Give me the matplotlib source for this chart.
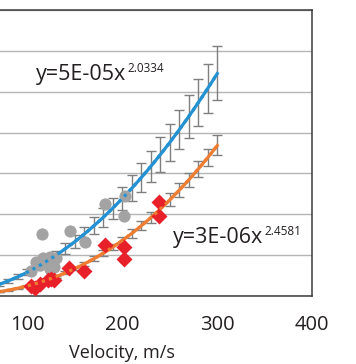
import numpy as np
import matplotlib
matplotlib.use("Agg")
import matplotlib.pyplot as plt

plt.rcParams["font.family"] = ["Open Sans", "DejaVu Sans"]

# measured points (gray = upper series, red = lower series)
gray_x = [182, 203, 201.5, 115.7, 145, 160.5, 109.4, 116.4, 123.4, 130.4, 128.6, 104, 113, 120, 123.4]
gray_y = [2.25, 2.45, 1.96, 1.51, 1.59, 1.32, 0.84, 0.92, 0.96, 0.92, 0.72, 0.62, 0.76, 0.88, 0.66]
red_x = [238.8, 238.8, 182, 202, 202, 144.4, 160, 125, 128.6, 107.7, 104, 113, 121.6]
red_y = [2.29, 1.96, 1.25, 1.19, 0.91, 0.68, 0.61, 0.41, 0.39, 0.19, 0.24, 0.29, 0.39]

# power trendlines as printed on the chart
blue_a, blue_b = 5e-05, 2.0334
orange_a, orange_b = 3e-06, 2.4581

# model points with error bars
err_x = [50, 60, 70, 80, 90, 100, 110, 120, 130, 140, 150, 160, 170,
         180, 190, 200, 210, 220, 230, 240, 250, 260, 270, 280, 290, 300]
blue_mid = [0.14, 0.21, 0.28, 0.37, 0.47, 0.58, 0.71, 0.85, 0.99, 1.16, 1.33, 1.52, 1.72,
            1.93, 2.15, 2.39, 2.64, 2.90, 3.17, 3.46, 3.76, 4.07, 4.40, 4.73, 5.08, 5.45]
blue_err = [0.02, 0.02, 0.03, 0.04, 0.06, 0.07, 0.08, 0.10, 0.12, 0.14, 0.16, 0.18, 0.21,
            0.23, 0.26, 0.29, 0.32, 0.35, 0.38, 0.42, 0.45, 0.48, 0.53, 0.58, 0.61, 0.66]
orange_mid = [0.05, 0.07, 0.10, 0.14, 0.19, 0.25, 0.31, 0.39, 0.47, 0.57, 0.67, 0.79, 0.91,
              1.05, 1.20, 1.36, 1.53, 1.72, 1.92, 2.13, 2.36, 2.59, 2.84, 3.11, 3.39, 3.69]
orange_err = [0.003, 0.005, 0.007, 0.009, 0.012, 0.016, 0.02, 0.025, 0.031, 0.037, 0.044, 0.051, 0.059,
              0.068, 0.078, 0.088, 0.10, 0.11, 0.125, 0.14, 0.15, 0.17, 0.18, 0.20, 0.22, 0.24]

xtick_vals = [100, 200, 300, 400]

blue = "#2492d2"
orange = "#ee7d31"

fig = plt.figure(figsize=(3.56, 3.64), dpi=100)
# axes start left of the visible area (the picture is cropped)
ax = fig.add_axes([-0.19, 0.1868, 1.067, 0.7857])

xs = np.linspace(40, 300, 200)

ax.errorbar(err_x, blue_mid, yerr=blue_err, fmt="none", ecolor="#7f7f7f",
            elinewidth=1, capsize=3.5, capthick=1, zorder=2)
ax.errorbar(err_x, orange_mid, yerr=orange_err, fmt="none", ecolor="#7f7f7f",
            elinewidth=1, capsize=3.5, capthick=1, zorder=2)

ax.plot(xs, blue_a * xs ** blue_b, color=blue, lw=2.3, zorder=3)
ax.plot(xs, orange_a * xs ** orange_b, color=orange, lw=2.3, zorder=3)

ax.plot(gray_x, gray_y, "o", color="#a3a3a3", ms=8.8, mec="none", zorder=4)
ax.plot(red_x, red_y, "D", color="#e8202a", ms=8.5, mec="none", zorder=4)

# dotted trendlines over the markers
ax.plot(xs, blue_a * xs ** blue_b, color=blue, lw=2.3, ls=(0, (1, 1.3)), zorder=5)
ax.plot(xs, orange_a * xs ** orange_b, color=orange, lw=2.3, ls=(0, (1, 1.3)), zorder=5)

t1 = ax.text(108.7, 5.29, "y=5E-05x", fontsize=15.5, va="baseline", ha="left", color="#231f20")
ax.annotate("2.0334", xy=(1, 0), xycoords=t1, xytext=(1, 9), textcoords="offset points",
            fontsize=8.5, va="baseline", ha="left", color="#231f20")
t2 = ax.text(253.6, 1.30, "y=3E-06x", fontsize=15.5, va="baseline", ha="left", color="#231f20")
ax.annotate("2.4581", xy=(1, 0), xycoords=t2, xytext=(1, 9), textcoords="offset points",
            fontsize=8.5, va="baseline", ha="left", color="#231f20")

ax.set_xlim(0, 400)
ax.set_ylim(0, 7)
ax.set_xticks(xtick_vals)
ax.set_yticks(range(8))
ax.set_yticklabels([])
ax.tick_params(axis="x", length=0, pad=14, labelsize=14.5, labelcolor="#231f20")
ax.tick_params(axis="y", length=0)
ax.grid(axis="y", color="#b5b5b5", lw=1)
ax.set_axisbelow(True)
for s in ax.spines.values():
    s.set_color("#3a3a3a")
    s.set_linewidth(1.1)

ax.set_xlabel("Velocity, m/s", fontsize=13, color="#231f20", labelpad=6)

fig.savefig("out.png", dpi=100)
